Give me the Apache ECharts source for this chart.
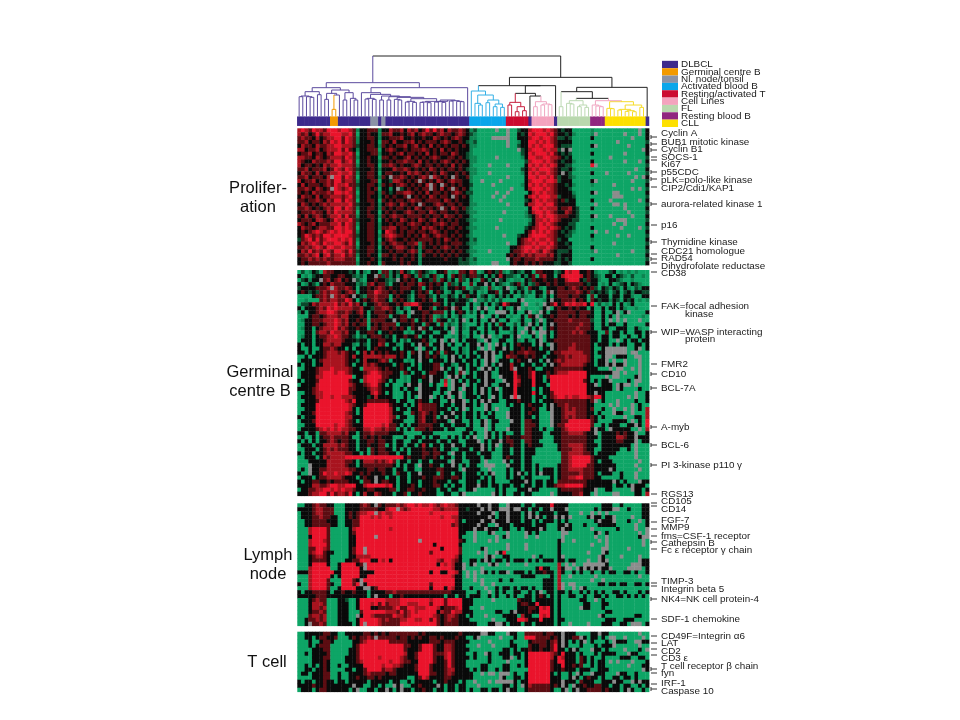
<!DOCTYPE html>
<html><head><meta charset="utf-8">
<style>html,body{margin:0;background:#fff}#c{width:960px;height:720px}#c canvas{filter:blur(0.45px)}</style>
<script src="https://cdn.jsdelivr.net/npm/echarts@6/dist/echarts.min.js"></script>
</head><body><div id="c"></div>
<script>
// cell codes: 0 bright green,1 mid green,2 dark green,3 black,4 dark red,5 mid red,6 bright red,. missing
const prolifRows = [
"565465546665 665413344413 354453545346 464535445431 200000.00.00 233566656543 233000001000 000000000.03",
"545346455666 556403343314 453343453454 434544345432 100000000.00 323656665643 323100001.00 00000.000.03",
"454435345566 465413344313 344453343343 354343454331 10000.....00 333566566542 232000003000 0000000.0003",
"445344354656 465413334304 435334453434 443454334321 200000000.00 133665656543 333000000000 000.00000002",
"354435445566 555423344314 343445345343 534343443431 100000000.00 233656566643 222000003.00 000000.00003",
"553445345556 464313344403 454334344454 343534343331 000000000000 .23566656552 .3.000000000 0000000000.3",
"344534435466 556403334413 343453443435 343443543321 000000000000 023656665643 232000003000 00000.000003",
"554435434555 465413343304 434334534343 454334434321 100000.00000 013665566554 323000000000 0.0000000002",
"543354445466 456403343313 343445443534 343454343431 100000000000 002566656543 233100003000 00000.000.03",
"534434354556 555413344304 454343345434 434343534331 0000.0000.00 003656565653 322000006.00 000000000002",
"445344453465 465423334313 335445434343 543434434321 100000000000 023565666543 223100000000 00000000.003",
"354435344556 556413344303 443343545434 343543343431 1000.0000000 013656556543 .32000003000 .00000.00002",
"445344435.66 465403344314 3.4454343454 .54343.43341 000000000.00 003665665642 332100000000 00000000.0.3",
"534453445466 455413334403 325543434.43 435434544331 00.0000.0000 003566656652 333000003.00 0000000.0002",
"353444345465 564423344314 343454343435 .43.43434332 00000.000000 013656565543 323100001000 00.000000003",
"445435434.65 456413343403 313.23434344 .43534.43431 0000000000.0 003566656543 332000000000 0000000.0.02",
"434354445466 565403344314 323445543435 344343454322 000000.00.00 000356565543 333100003.00 00..00000003",
"354435344555 456413343313 434334.34343 543443.43431 00000.00.000 003565666552 333200000000 00...0000002",
"443445435466 465403344304 343443454434 444354343331 0000000.0000 002356565543 423300003000 0.0000000.03",
"354343454555 556423334313 454354343.43 345434434331 100000000.00 003556656643 333300000.00 00..0.000002",
"445434345466 465413344314 343443435434 434.43543421 000000000000 000366565553 445320003000 00000.000003",
"344454435465 555403343303 434334543443 543443343321 10000000.000 001356656543 354320000000 000000.00002",
"435345434556 464413344314 345443444434 344354434331 000000000000 001235656654 443320003.00 0.00000.0003",
"344435543465 556423334303 434354343543 453434343321 1000000.0000 000135565654 333220001000 000...000002",
"543453444556 465413344313 343443454434 344543443331 000000000000 000235656543 332200000000 00.00.000003",
"354434554466 565403344314 455344344354 543434434321 100000.00000 002345665654 323200003000 0000.0000.02",
"343456545656 566413344303 654343443443 454343343331 000000000000 003465656543 232100000.00 .00000000003",
"346545466566 665423344314 565443434354 345443434321 00000000.000 233566665543 322000003000 000.00.00002",
"245646456665 656413344303 454334343444 434354343331 200000000000 345656556542 330000001000 000000000003",
"354565465566 546403334314 345443445143 434343444321 100000000.00 345565665643 323000000000 00.000000002",
"445456546655 655413344303 434554343143 343454343331 000000000033 456656556543 332000003000 000000000003",
"354645465466 546423344313 343443454134 434343434321 1000.0000034 456565465432 223000001.00 0000000.0002",
"445456356455 645413343304 434334343143 343434343331 000000000343 454545554532 333000000000 000.00000003",
"344545454455 544403334313 334343343133 333343332321 200000000.34 434445444432 323000003000 000000000002",
"343444445444 444413343304 333343433133 333333332221 10000..00034 334343433322 332000000000 000000000003"
];
const gcRows = [
"020132054433 332303103304 413253202432 103340104435 401343241023 213304433312 365663343100 023010101000",
"301023344334 433212033.42 413135431421 341030434234 423031353221 031340453303 566665343210 330321020010",
"023133.45345 343.21033433 212.34343033 241431304203 104313.23101 103243343343 356663243310 033210010000",
"301320343544 433312145344 203343443543 434304213004 033.30321023 413124334343 344444323301 030123032100",
"233334445.54 454303343454 343344433403 433203343401 221041013.01 320433103334 434543434203 213203102133",
"343232454554 345403344654 434343313434 034301301331 301033403303 130203304.34 444454342323 202302313322",
"000034454.54 543.32144544 403433203443 203113203143 302301313130 021003203034 443443304033 303303310033",
"001000454554 465303434544 304343203343 403303323320 .11202020000 3.0000013.33 444534304323 313203230101",
"022354555564 546453133454 433435566433 344303133303 013030236433 30.0010.3463 465655636020 103030130000",
"303334546565 555445332445 543131033533 403343.43003 0.3.00303103 .0100013.034 334343303003 033031001000",
"130334556654 454345303444 3431030.3344 344403034302 030300...303 003.01.30334 444434443003 003.03.00003",
"000344345554 553334303344 403344033343 401203013100 03.003033010 03043.133434 443434433003 030.10000010",
"013344455565 453343404444 33.344340343 404330203.03 03003.300300 130031.03344 445444442003 0.0.0.000.00",
"003344345565 453434403434 444033343304 330402103100 030303043002 031.30303.34 444445443003 033003000003",
"013303455564 543343304434 434343043.43 033303.03103 300303303303 00.303.03434 444454443003 300333003100",
"003304554655 453303344303 343330103303 300330.03003 030300300013 0.03.0..3034 444545433300 403303003303",
"013303445565 443202134443 230334334033 033300103103 00.3.0103303 .00030.03034 444444443303 303300300303",
"033303345555 433323303344 330302033343 103.03.03033 310.30033003 103103.03344 444444443303 300.03033033",
"303303355455 333103203354 033103303.34 033.30300303 3.30.0.30303 433303.30.34 444544443033 303033003303",
"300300344543 303033303433 330303330.03 303.33003103 30.0.033.303 343433033.34 445544443003 ......003.03",
"330303345554 543303535343 433343043.34 034043303103 033.3.303343 445443330344 555555443033 ......0..000",
"003033345555 543533555554 555343033.34 343103.30303 303.3.003544 334343303334 454555543003 ..033300..00",
"033303455555 543313533345 403330103.33 033303.33033 030.3.033303 433.3303.345 455555543033 .0.00.000.00",
"303303355555 543033545433 330343303033 344033103303 030.303.3353 303303303.34 555555433033 .3.33.000.00",
"003334555655 554330555543 433343033033 344.3030.303 30.3.303335. 333430033344 444444333300 0.0..00.0.00",
"033334566656 654333456654 443304303303 443303304.03 033.30033336 333463334345 556666633333 33..0.000.00",
"033335566666 666033566664 433301033343 .3330.3.3033 033.300.3336 433463304666 666666630000 .0..00003.00",
"303334666666 664330566654 303001033033 .33050.30303 303.3300.336 533363303666 666666430303 3.000030..00",
"033335666666 665433456643 030003.33.33 030060.33.03 033.30033.36 433363330666 666666633.03 330.3..0.000",
"333345666666 664433345543 330030330.33 330330.30.33 03.303.03336 333303033666 666666633333 330.30000300",
"003345566666 664333335643 030003033.33 30030.33.033 03.303303336 333363033466 666666633.33 00000000.003",
"033335566566 555433323533 330003030.33 .0303.03.033 30330.3033.6 .33303303456 656556654663 000000.0.003",
"003334666666 654633344444 433033003433 033003.33.03 03.3.3300333 433303033344 444444434.03 000.00003003",
"033336666666 665433466666 643330303544 443033033.33 030.30000303 303433303.34 454444433000 0.0.000.0300",
"003336666666 665303666666 653033033544 443330303.03 000.30.00033 303343003.33 454544434003 00.00.0.0305",
"033346666666 654303666666 653330043454 343033.33033 030303000.33 303433000.33 455544433030 00.3300.0005",
"303336666666 655333666666 654033003453 3403.3303033 030033000.33 303303000.33 454544434303 00000.003305",
"033346666666 654303666666 653330003453 343330.33003 003.033000.3 304433000.33 446666664300 0033330.0306",
"003336666656 654333666665 644303033444 433033033303 003.03000033 304443000.34 466666664003 03330033.306",
"033334565656 554433556554 544030304443 433303300033 000.03000.33 304433030033 456666663.33 0.3333300.05",
"330330445555 453303445444 433330000033 300000000330 300.30303003 304433300333 445555433.03 33343433.003",
"030030344544 443003434343 330003003303 033003030303 .00.30303433 344433300033 444444433303 33355433.333",
"303030334543 443303344344 330330033033 330330330033 3.03033.3443 304433000033 444444433003 33344333.033",
"033303355554 543303343344 030330330353 033033.33033 33.303.03343 303433300003 445555433303 33333330.000",
"003330345454 443303304344 330303033343 343033103330 33.303003303 303330000003 444555433003 33330030.000",
"303303345555 544330304344 433033033344 344330.33033 303330003303 303330000000 445555443033 33300000.000",
"003330354555 566666666666 666663433343 343033033033 330330003433 303300000000 445666664333 30000000.000",
"000333335555 544303555454 564033033033 033330.33003 330.0000.303 303300000000 445666664303 330000000.00",
"000.33335555 543303444444 443030330.33 433033.30303 300...000.33 303303000003 445666644333 33300000.000",
"030.33445555 554433344344 330330330033 334433330.33 3300.0000303 303303033303 445555444333 3.3000000.00",
"300.33465565 565334343334 330433033.33 330433033033 30303.000303 .30303.33303 444445444303 33003000.000",
"033303445555 433303433.33 033033033343 344433443033 330303000303 303300000303 445566444330 00003000.000",
"303344334344 443330443.34 433033033033 343330330033 303303000033 33.303303304 444444433333 33.303000.33",
"333355445665 566633566666 563033343033 344303033033 3.3303303303 303303303345 566666433333 3303303.3330",
"033445566565 655433344333 344033443343 330330330033 .00000303000 333.33000003 444444333.00 3300000.3303",
"333455664645 546303533543 330334033433 330033003.00 00000.303003 303300000.03 333445330.00 00..00003305"
];
const lymphRows = [
"003345443300 033334543.43 444545665655 654565543333 3.33.3300.33 303303333633 330000000003 330030000033",
"333345544400 033334444433 566.54566666 655455553323 33.3.33...3. .33033033.33 3.0000000303 33..00300033",
"033345544400 034345566.56 556666666666 566666663333 3.333.033.33 303.30333303 33000.00.0.0 .00000000033",
"033344544330 034346665656 656666666666 666566553333 3333.3033.33 303.3.3033.3 .3.00003.330 33.0000.0033",
"003344443330 033446666666 666666666666 666666653033 33.33.333.33 303303033303 0300000003.3 33.000300.03",
"003344444330 033446666666 666666666666 666666453333 3.3300.33303 333303330003 3.3000300033 33300000.003",
"000566664000 003566666666 656666666666 666666663333 .33.33303300 303333.30003 .3300000.000 00030000.00.",
"000566664000 003466666666 666666666666 666666663300 .0003.000.00 00.303000000 ..00000003.0 300000000.0.",
"000366664000 003366666.66 666666666666 666666663000 .00000.03.00 00.00.000000 .00000000.00 .000000003..",
"000566654000 003366666666 666666666.66 666666664300 .000.0.00000 000000000003 .00.000000.0 .000000000.0",
"000566664000 003366666666 666666666666 636666663000 000000000.00 00.000000003 00000000.000 .000000000.0",
"000446654000 003466.66666 666666666666 666366664000 003.00000.00 00.000000003 00000000000. .00000.00000",
"000456643300 003466.66666 666666666666 466666664000 0.0.00.36000 000000000003 0000000.000. 300000000000",
"000345543000 003355556666 666666666666 666666653000 000.3.003300 0000.0300003 .000000000.3 0000.0000.00",
"000344443000 033446663365 636666666666 665466543003 303.30330303 330303033303 3033000.00.3 .00000000.33",
"000366663003 666634.66666 666666666666 663656533.03 .000.3.00.00 00.000000005 0.0.00...... 3000000...33",
"000566666003 666663.66666 666666666666 666666533.00 00.000000000 000003633005 3..0.3.3.3.3 3.0000....03",
"333566666633 666663333666 666666666666 3663366530.0 .0.303033.03 330303343305 300303003003 033003303003",
"000566666303 666663366666 666666666666 6666665330.0 .00000000000 033330000305 00.000000.00 000000000.00",
"000566664000 66643.666666 666666666666 666666633000 .0.000030030 000000033305 00000000.00. 000000000000",
"300566664300 66646.366666 666666666666 466666633000 00.00.000000 000000033305 .0..00000033 033033003303",
"000566664003 666633..3466 666666666666 366636533003 000.00303303 033030033305 .00.0.300000 000000000000",
"303344443033 433433303333 445444444444 444444333300 0300.0303003 300303.03303 303003030303 003303000303",
"333334443333 333333303.33 303343333333 333303303303 330030300303 003303430303 003300300330 300330303030",
"000345440003 320036666666 555566666666 566646666333 00000.000000 433303333303 000003300.03 000000000000",
"000355540003 330036665646 455566555666 466646666333 000000000000 344336333303 000000330003 300000000000",
"000355450003 330036663344 445644665556 665344456330 00.000000000 333443656303 00000.330003 000000000000",
"000344540003 330004666666 555464565666 663544655333 00000033003. 333433666303 000000000000 330000000000",
"000455450003 3300.3665444 446554566666 654345543303 000.00003333 053300656303 0000000000.3 000000003300",
"003445450003 330036666654 544455665566 464345443330 00000.000333 665333633303 300000000000 333003330000",
"003.44540003 333036.66654 444466666666 664344443333 300033..3033 303303333303 00.0000.0003 3300330...03"
];
const tcellRows = [
"003333344330 033333443434 344444444343 333333334333 33..33000.33 004444434433 .333000033.3 300000000.00",
"003303443340 003434454.44 444344343433 443433343300 3.00000.0003 006664444343 .3344.303303 0..00.0000.0",
"000300344300 000334566666 644444333333 444344433330 0000.0000030 000344443453 .30303.03000 30.33300..33",
"000303444000 000346666666 666664433466 643355433300 0.000.000033 000433443463 .30003000303 33.000000.00",
"000033344000 003346666666 666664333466 643355433330 000000003303 033433433463 303.3000.330 30000.00030.",
"003033334000 003346666666 666665334666 644456433300 300.30033303 303666666543 633303000303 333000.33000",
"000033344000 033346666656 666654334666 643356433330 3000300033.0 303666666536 533304303003 000033300330",
"000033343000 033345666666 656654433666 643346433300 000030000.00 003666666436 633304303033 0.0.000.0003",
"003030343003 003333666665 665543334666 433346433300 003300003300 303666666433 633434003033 000000.00033",
"003303343000 033033466664 554333334666 433345533330 303300303300 000666666433 433303330033 3000000000.3",
"033033344003 003333454444 344333333666 443345433333 00.0..0...03 003666666303 0030.300.333 000.33003000",
"000033344003 003343344343 333333003465 333344333333 0000000.3003 303666666333 003.30343303 003303303000",
"303303343303 303333303333 303300303333 303343330300 .000.0.....3 033666666333 .33304333003 33.3300.3.33",
"333343343333 333.33003303 00.3.0033433 33.303303300 0.0000003303 0.3544444343 .30.33433443 303303300303",
"033303443333 3303.0033033 .303.3303343 303303303303 003303303.33 003444444300 3.03.3344443 433303.30030"
];

const classNames = ["DLBCL","Germinal centre B","Nl. node/tonsil","Activated blood B","Resting/activated T","Cell Lines","FL","Resting blood B","CLL"];
const classColors = ["#3d2a8c","#f39a00","#8b93a6","#0aa6ea","#cc0b30","#f4a3be","#b9d8ae","#90267f","#fde000"];
// class index of each of the 96 columns, as runs [class, count]
const classRuns = [[0,9],[1,2],[0,9],[2,2],[0,1],[2,1],[0,23],[3,10],[4,6],[0,1],[5,6],[0,1],[6,9],[7,4],[8,11],[0,1]];
// dendrogram: [height, childA, childB, colourKey]; numbers are column leaves
const leftTree = [102,
  [87,
    [75,[62,[60,0,1],[60,2,[58,3,4]]],[66,5,6]],
    [80,[70,[52,7,8],[65,[22,9,10,"o"],11]],[72,[50,12,13],[55,14,[50,15,16]]]]],
  [87,
    [72,17,[67,[55,[53,18,19],[52,20,21]],[62,[50,22,23],[60,[50,24,25],
      [58,[52,26,[50,27,28]],[54,[46,[44,29,30],[43,31,32]],
        [46,[44,[43,33,34],[42,35,36]],[50,[45,[44,37,38],[43,39,40]],[48,[47,41,42],[46,43,[45,44,45]]]]]]]]]]],
    46],"d"];
const blueTree = [77,47,[65,[40,48,[35,49,50]],[50,[42,51,52],[38,[30,53,54],[28,55,56]]]],"b"];
const redTree = [43,[35,57,58],[30,[15,59,60],[18,61,62]],"r"];
const pinkTree = [45,[30,64,65],[38,[35,66,67],[36,68,69]],"p"];
const greenA = [30,71,72,"g"];
const greenB = [48,[40,73,[38,74,75]],[35,[30,76,77],[28,78,79]],"g"];
const pinkB = [35,80,[32,81,[30,82,83]],"p"];
const cllTree = [45,[25,84,[24,85,86]],[35,[22,[20,87,88],[18,[16,89,90],[15,91,92]]],[28,93,94]],"y"];
const rightTree = [118,
  [93,blueTree,[93,[70,redTree,[62,63,pinkTree,"k"],"k"],70,"k"],"k"],
  [88,[75,greenA,[55,greenB,[48,pinkB,cllTree,"p"],"k"],"k"],95,"k"],"k"];
const rootTree = [182,leftTree,rightTree,"k"];
const dendroColors = {d:"#5b4a9e",k:"#222222",o:"#f39a00",b:"#35b0e6",r:"#c8203f",p:"#f0a6c2",g:"#bcd9b3",y:"#f6dc2a"};

const sideLabels = [["Prolifer-\nation",258,198],["Germinal\ncentre B",260,382],["Lymph\nnode",268,565],["T cell",267,662]];
// [text, label y, tick y, bracket?]
const geneLabels = [
["Cyclin A",133,137,1],["BUB1 mitotic kinase",142,144,1],["Cyclin B1",149.5,150,1],["SOCS-1",157,157,0],["Ki67",164,160,0],
["p55CDC",172,172,1],["pLK=polo-like kinase",180,179,1],["CIP2/Cdi1/KAP1",188,187,0],["aurora-related kinase 1",204,204,1],
["p16",225,225,0],["Thymidine kinase",242,242,1],["CDC21 homologue",251,254,0],["RAD54",258,259,1],["Dihydrofolate reductase",266,263,0],
["CD38",273,272,0],["FAK=focal adhesion",306,306,0],["WIP=WASP interacting",332,332,1],["FMR2",364,364,0],["CD10",374,374,1],
["BCL-7A",388,388,1],["A-myb",427,427,1],["BCL-6",445,445,1],["PI 3-kinase p110 γ",465,465,1],["RGS13",494,494,0],
["CD105",501,503,0],["CD14",509,506,0],["FGF-7",520,522,0],["MMP9",527,529,0],["fms=CSF-1 receptor",536,536,0],["Cathepsin B",543,542,1],
["Fc ε receptor γ chain",550,549,0],["TIMP-3",581,583,0],["Integrin beta 5",589,586,0],["NK4=NK cell protein-4",599,599,1],
["SDF-1 chemokine",619,619,0],["CD49F=Integrin α6",636,636,0],["LAT",643,643,0],["CD2",651,649,0],["CD3 ε",658,655,0],
["T cell receptor β chain",666,669,1],["fyn",673,673,0],["IRF-1",683,684,0],["Caspase 10",691,689,1]];
const continuationLabels = [["kinase",685,314],["protein",685,339]];

const FONT = '"Liberation Sans",Arial,sans-serif';
const levels = {".":-9,"0":-3,"1":-2,"2":-1,"3":0,"4":1,"5":2,"6":3};
const cellColors = {"-9":"#8c8c8c","-3":"#0ea566","-2":"#0c8450","-1":"#0a4a2c","0":"#0a0a0a","1":"#5c0d12","2":"#a8141f","3":"#ea142c"};
const panels = [[prolifRows,128.3,136.7],[gcRows,270,225.7],[lymphRows,503.3,122.4],[tcellRows,631.7,60]];
const colCats = Array.from({length:96},(_,i)=>i);
const L=297.3,W=351.7;

const grids=[],xAxes=[],yAxes=[],series=[];
function band(top,h,rows){
  const i=grids.length;
  grids.push({left:L,top,width:W,height:h,containLabel:false});
  xAxes.push({gridIndex:i,type:"category",data:colCats,show:false});
  yAxes.push({gridIndex:i,type:"category",inverse:true,data:Array.from({length:rows},(_,k)=>k),show:false});
  return i;
}
function cellItem(p,api){
  const c=api.coord([api.value(0),api.value(1)]),s=api.size([1,1]);
  return {type:"rect",shape:{x:c[0]-s[0]/2,y:c[1]-s[1]/2,width:s[0]+0.4,height:s[1]+0.4},
    style:{fill:cellColors[api.value(2)]}};
}
panels.forEach(([rows,top,h])=>{
  const i=band(top,h,rows.length),data=[];
  rows.forEach((r,y)=>{const s=r.replace(/ /g,"");
    for(let x=0;x<96;x++)data.push([x,y,levels[s[x]||s[s.length-1]]]);});
  series.push({type:"custom",xAxisIndex:i,yAxisIndex:i,data,animation:false,progressive:0,silent:true,renderItem:cellItem,
    encode:{x:0,y:1}});
});
// class strip
const strip=band(116.7,9,1);
const colClass=[];classRuns.forEach(([c,n])=>{for(let k=0;k<n;k++)colClass.push(c);});
classNames.forEach((name,c)=>{
  series.push({type:"heatmap",name,xAxisIndex:strip,yAxisIndex:strip,animation:false,progressive:0,
    itemStyle:{color:classColors[c],borderWidth:0},
    data:colClass.map((v,x)=>v===c?[x,0,1]:null).filter(Boolean)});
});
// dendrogram
const dg=grids.length;
grids.push({left:L,top:56,width:W,height:60.7});
xAxes.push({gridIndex:dg,type:"value",min:0,max:96,show:false});
yAxes.push({gridIndex:dg,type:"value",min:0,max:182,show:false});
const segs=[];
function walk(n,key){
  if(typeof n==="number")return {x:n+0.5,h:0,key};
  const k=n[3]||key,a=walk(n[1],k),b=walk(n[2],k);
  segs.push([a.x,n[0],b.x,n[0],k]);
  segs.push([a.x,n[0],a.x,a.h,a.key]);
  segs.push([b.x,n[0],b.x,b.h,b.key]);
  return {x:(a.x+b.x)/2,h:n[0],key:k};
}
walk(rootTree,"d");
series.push({type:"custom",xAxisIndex:dg,yAxisIndex:dg,animation:false,data:segs,silent:true,clip:false,
  encode:{x:[0,2],y:[1,3]},
  renderItem(p,api){
    const a=api.coord([api.value(0),api.value(1)]),b=api.coord([api.value(2),api.value(3)]);
    return {type:"line",shape:{x1:a[0],y1:a[1],x2:b[0],y2:b[1]},
      style:{stroke:dendroColors[segs[p.dataIndex][4]],lineWidth:1,fill:null}};
  }});

const graphic=[];
sideLabels.forEach(([t,x,y])=>graphic.push({type:"text",x,y,silent:true,
  style:{text:t,font:"16.5px "+FONT,fill:"#111",align:"center",verticalAlign:"middle",lineHeight:19.5}}));
geneLabels.forEach(([t,ly,ty,br])=>{
  graphic.push({type:"text",x:661,y:ly,silent:true,style:{text:t,font:"9.9px "+FONT,fill:"#1a1a1a",verticalAlign:"middle"}});
  graphic.push({type:"line",silent:true,shape:{x1:651,y1:ty,x2:657,y2:ty},style:{stroke:"#333",lineWidth:1}});
  if(br)graphic.push({type:"line",silent:true,shape:{x1:651,y1:ty-2,x2:651,y2:ty+2},style:{stroke:"#333",lineWidth:1}});
});
continuationLabels.forEach(([t,x,y])=>graphic.push({type:"text",x,y,silent:true,style:{text:t,font:"9.9px "+FONT,fill:"#1a1a1a",verticalAlign:"middle"}}));

const chart=echarts.init(document.getElementById("c"),null,{renderer:"canvas"});
chart.setOption({
  animation:false,backgroundColor:"#fff",
  grid:grids,xAxis:xAxes,yAxis:yAxes,series,graphic,
  tooltip:{show:false},
  legend:{data:classNames,orient:"vertical",left:662,top:59.5,icon:"rect",itemWidth:16,itemHeight:7.35,itemGap:-2.65,
    padding:0,selectedMode:false,
    textStyle:{fontFamily:FONT,fontSize:9.9,color:"#1a1a1a",padding:[0,0,0,-2]}}
});
</script></body></html>
